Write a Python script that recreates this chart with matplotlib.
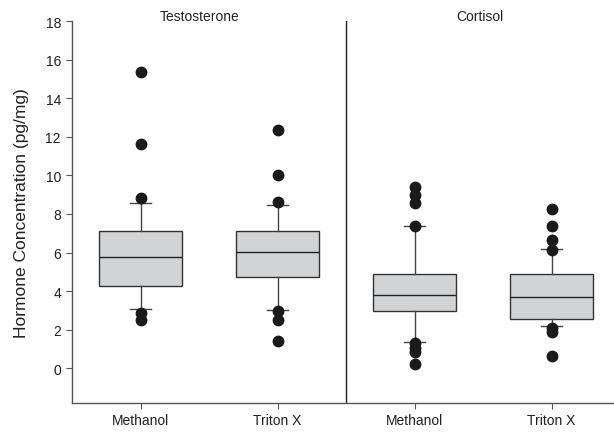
import matplotlib
matplotlib.use("Agg")
import matplotlib.pyplot as plt

plt.rcParams['font.family'] = ['Liberation Sans', 'DejaVu Sans']

# box statistics (pg/mg)
labels = ["Methanol", "Triton X", "Methanol", "Triton X"]
panels = ["Testosterone", "Cortisol"]
q1 = [4.27, 4.75, 2.99, 2.54]
med = [5.77, 6.02, 3.82, 3.67]
q3 = [7.09, 7.09, 4.88, 4.88]
whislo = [3.06, 3.04, 1.38, 2.21]
whishi = [8.59, 8.47, 7.40, 6.19]
fliers = [
    [15.35, 11.63, 8.83, 2.89, 2.51],
    [12.33, 10.03, 8.64, 2.97, 2.51, 1.43],
    [9.40, 9.00, 8.57, 7.40, 1.30, 1.04, 0.85, 0.22],
    [8.26, 7.36, 6.65, 6.15, 2.11, 1.88, 0.62],
]

stats = []
for i in range(len(labels)):
    stats.append(dict(q1=q1[i], med=med[i], q3=q3[i], whislo=whislo[i],
                      whishi=whishi[i], fliers=fliers[i], label=labels[i]))

fig = plt.figure(figsize=(6.14, 4.35), dpi=100)
# axes runs a bit past the right edge of the figure, as in the reference
ax = fig.add_axes([0.1173, 0.0713, 0.8925, 0.8781])

edge = '#333333'
ax.bxp(stats, positions=[1, 2, 3, 4], widths=0.6, patch_artist=True,
       capwidths=0.16,
       boxprops=dict(facecolor='#d2d3d5', edgecolor=edge, linewidth=1.0),
       medianprops=dict(color='#222222', linewidth=1.0),
       whiskerprops=dict(color='#444444', linewidth=1.0),
       capprops=dict(color='#444444', linewidth=1.0),
       flierprops=dict(marker='o', markerfacecolor='#1a1a1a',
                       markeredgecolor='#1a1a1a', markersize=7.5))

ax.axvline(2.5, color='#222222', linewidth=1.0)

ax.set_xlim(0.5, 4.5)
ax.set_ylim(-1.8, 18)
ax.set_yticks(range(0, 19, 2))
ax.set_xticks([1, 2, 3, 4])
ax.set_xticklabels(labels)

for s in ['top', 'right']:
    ax.spines[s].set_visible(False)
for s in ['left', 'bottom']:
    ax.spines[s].set_color('#555555')
    ax.spines[s].set_linewidth(1.0)

ax.tick_params(direction='out', length=4.5, width=0.8, color='#555555',
               labelsize=10, labelcolor='#222222')
ax.tick_params(axis='x', pad=3)
ax.set_ylabel("Hormone Concentration (pg/mg)", fontsize=12.5,
              color='#222222', labelpad=12)

ax.text(1.43, 18.25, panels[0], ha='center', va='center', fontsize=10,
        color='#222222', clip_on=False)
ax.text(3.48, 18.25, panels[1], ha='center', va='center', fontsize=10,
        color='#222222', clip_on=False)

fig.savefig("out.png", dpi=100)
